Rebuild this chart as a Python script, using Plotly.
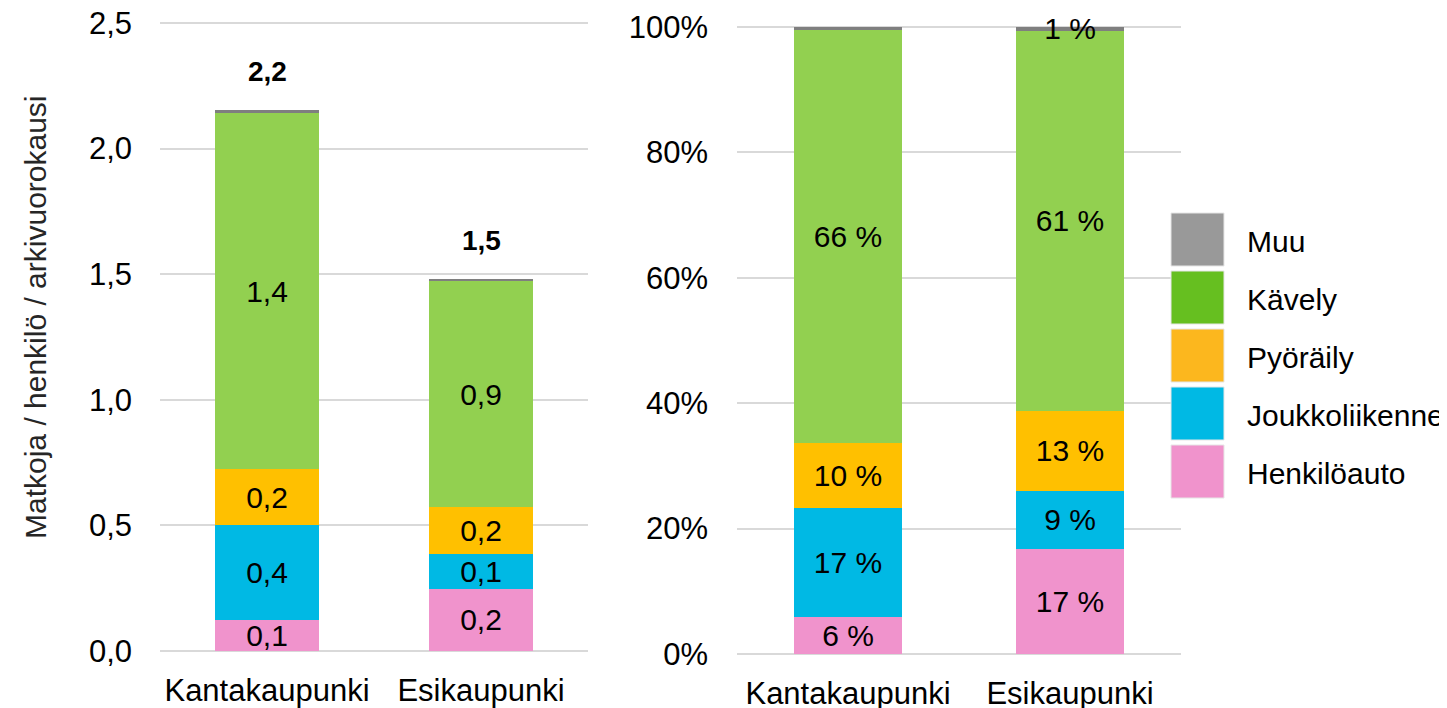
import plotly.graph_objects as go

categories = ["Kantakaupunki", "Esikaupunki"]
series = ["Henkilöauto", "Joukkoliikenne", "Pyöräily", "Kävely", "Muu"]

# Trips per person per weekday (left chart)
trips_kanta = [0.123, 0.379, 0.222, 1.418, 0.012]
trips_esi = [0.248, 0.138, 0.187, 0.900, 0.008]

# Share of trips, % (right chart)
share_kanta = [5.9, 17.4, 10.4, 65.9, 0.4]
share_esi = [16.8, 9.2, 12.8, 60.6, 0.6]

bar_colors = ["#f093cc", "#00b9e4", "#ffc000", "#92d050", "#7f7f7f"]
legend_colors = ["#f093cc", "#00b9e4", "#fcb71e", "#66bf20", "#999999"]

left_ticks = [0, 0.5, 1.0, 1.5, 2.0, 2.5]
right_ticks = [0, 20, 40, 60, 80, 100]

# page body has an 8px margin; figure starts at (8, 8) in the window
OFF = 8
W, H = 1447 - OFF, 708 - OFF
FONT = "Arial, Liberation Sans, sans-serif"


def px(x):
    return (x - OFF) / W


def py(y):
    return (H + OFF - y) / H


fig = go.Figure()


def fmt1(v):
    s = f"{v:.1f}"
    return "" if float(s) == 0 else s.replace(".", ",")


def fmtp(v):
    s = f"{v:.0f}"
    return "" if int(s) == 0 else s + " %"


for i, name in enumerate(series):
    vals = [trips_kanta[i], trips_esi[i]]
    fig.add_trace(go.Bar(
        x=categories, y=vals, name=name, xaxis="x", yaxis="y",
        marker=dict(color=bar_colors[i], line=dict(width=0)),
        width=0.49, text=[fmt1(v) for v in vals], textposition="inside",
        insidetextanchor="middle", textangle=0, cliponaxis=False,
        textfont=dict(family=FONT, size=30, color="black"),
        showlegend=False, hoverinfo="skip"))
for i, name in enumerate(series):
    vals = [share_kanta[i], share_esi[i]]
    fig.add_trace(go.Bar(
        x=categories, y=vals, name=name, xaxis="x2", yaxis="y2",
        marker=dict(color=bar_colors[i], line=dict(width=0)),
        width=0.49, text=[fmtp(v) for v in vals], textposition="inside",
        insidetextanchor="middle", textangle=0, cliponaxis=False,
        textfont=dict(family=FONT, size=30, color="black"),
        showlegend=False, hoverinfo="skip"))

totals = [sum(trips_kanta), sum(trips_esi)]
annotations = []
for c, t in zip(categories, totals):
    annotations.append(dict(x=c, y=t, xref="x", yref="y", text=f"<b>{t:.1f}</b>".replace(".", ","),
                            showarrow=False, yshift=38, font=dict(family=FONT, size=28, color="black")))

# y-axis title
annotations.append(dict(x=px(35), y=py(317), xref="paper", yref="paper",
                        xanchor="center", yanchor="middle",
                        text="Matkoja / henkilö / arkivuorokausi", textangle=-90, showarrow=False,
                        font=dict(family=FONT, size=30, color="#262626")))

# custom legend (top to bottom: Muu ... Henkilöauto)
shapes = []
box_top = 213
step = 58
for k, idx in enumerate(reversed(range(len(series)))):
    y0 = box_top + k * step
    shapes.append(dict(type="rect", xref="paper", yref="paper",
                       x0=px(1171), x1=px(1224), y0=py(y0 + 53), y1=py(y0),
                       fillcolor=legend_colors[idx], line=dict(color="#e6e6e6", width=1)))
    annotations.append(dict(x=px(1245), y=py(y0 + 28), xref="paper", yref="paper",
                            text=series[idx], showarrow=False, xanchor="left", yanchor="middle",
                            font=dict(family=FONT, size=30, color="black")))

# left axis: value 0 at y=651, 2.5 at y=23 (screen px); extend range slightly above 2.5
L_MAX = 2.52
L_TOP = 651 - (651 - 23) * L_MAX / 2.5
R_MAX = 101
R_TOP = 654 - (654 - 27) * R_MAX / 100

grid = "#d9d9d9"
TF = dict(family=FONT, size=31, color="black")
fig.update_layout(
    width=W, height=H, barmode="stack",
    margin=dict(l=0, r=0, t=0, b=0),
    paper_bgcolor="white", plot_bgcolor="white",
    font=dict(family=FONT, size=30, color="black"),
    uniformtext=dict(minsize=30, mode="show"),
    xaxis=dict(domain=[px(160), px(588)], anchor="y", showgrid=False, showline=False,
               automargin=False, ticks="", ticklabelstandoff=18, tickfont=TF,
               ticklabeloverflow="allow"),
    yaxis=dict(domain=[py(651), py(L_TOP)], anchor="x", range=[0, L_MAX],
               tickvals=left_ticks, ticktext=[f"{v:.1f}".replace(".", ",") for v in left_ticks],
               showgrid=True, gridcolor=grid, gridwidth=2, zeroline=True, zerolinecolor=grid,
               zerolinewidth=2, showline=False, ticks="", ticklabelstandoff=27,
               automargin=False, tickfont=TF, ticklabeloverflow="allow"),
    xaxis2=dict(domain=[px(737), px(1181)], anchor="y2", showgrid=False, showline=False,
                automargin=False, ticks="", ticklabelstandoff=18, tickfont=TF,
                ticklabeloverflow="allow"),
    yaxis2=dict(domain=[py(654), py(R_TOP)], anchor="x2", range=[0, R_MAX],
                tickvals=right_ticks, ticktext=[f"{v}%" for v in right_ticks],
                showgrid=True, gridcolor=grid, gridwidth=2, zeroline=True, zerolinecolor=grid,
                zerolinewidth=2, showline=False, ticks="", ticklabelstandoff=28,
                automargin=False, tickfont=TF, ticklabeloverflow="allow"),
    annotations=annotations, shapes=shapes,
)

fig.write_html("out.html")
